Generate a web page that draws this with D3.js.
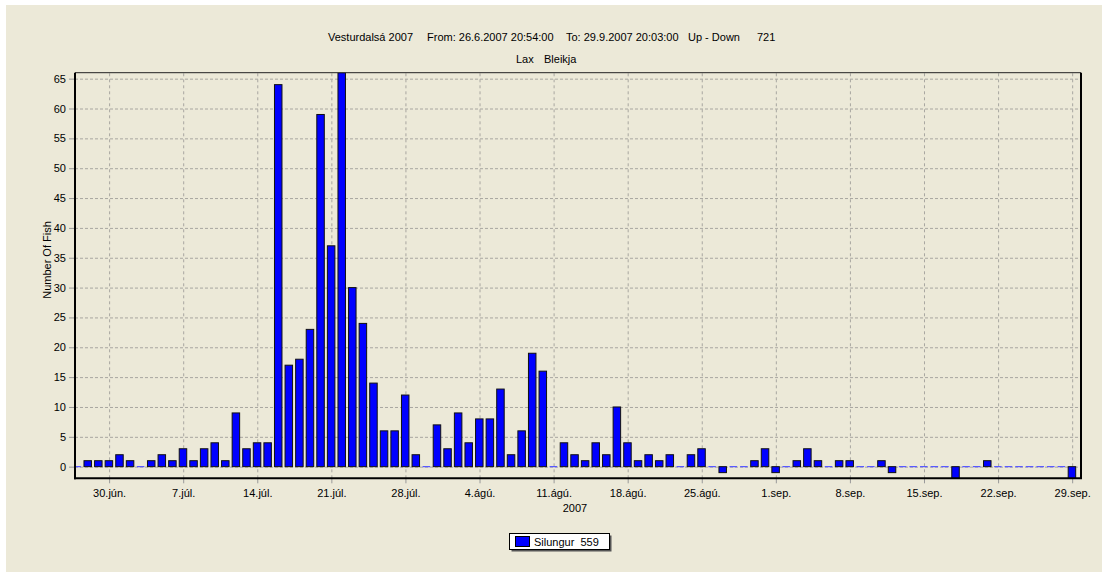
<!DOCTYPE html>
<html>
<head>
<meta charset="utf-8">
<script src="https://cdn.jsdelivr.net/npm/d3@7"></script>
<style>
  body { margin: 0; background: #ffffff; }
  svg { display: block; font-family: "Liberation Sans", Arial, sans-serif; font-size: 11px; }
</style>
</head>
<body>
<svg width="1102" height="572"></svg>
<script>
// Daily counts (Up - Down), one value per day starting 27 June 2007
const firstDay = "2007-06-27";
const lastDay = "2007-09-29";
const counts = [
    0, 1, 1, 1,
    // July
    2, 1, 0, 1, 2, 1, 3, 1, 3, 4, 1, 9, 3, 4, 4, 64, 17, 18, 23, 59, 37, 66, 30, 24, 14, 6, 6, 12, 2, 0, 7,
    // August
    3, 9, 4, 8, 8, 13, 2, 6, 19, 16, 0, 4, 2, 1, 4, 2, 10, 4, 1, 2, 1, 2, 0, 2, 3, 0, -1, 0, 0, 1, 3,
    // September
    -1, 0, 1, 3, 1, 0, 1, 1, 0, 0, 1, -1, 0, 0, 0, 0, 0, -2, 0, 0, 1, 0, 0, 0, 0, 0, 0, 0, -2
];

// Axis ticks
const xTickDates = ["2007-06-30", "2007-07-07", "2007-07-14", "2007-07-21", "2007-07-28", "2007-08-04",
    "2007-08-11", "2007-08-18", "2007-08-25", "2007-09-01", "2007-09-08", "2007-09-15", "2007-09-22", "2007-09-29"];
const xTickLabels = ["30.jún.", "7.júl.", "14.júl.", "21.júl.", "28.júl.", "4.ágú.",
    "11.ágú.", "18.ágú.", "25.ágú.", "1.sep.", "8.sep.", "15.sep.", "22.sep.", "29.sep."];
const yTicks = [0, 5, 10, 15, 20, 25, 30, 35, 40, 45, 50, 55, 60, 65];

// Period shown on the x axis (From / To)
const periodFrom = "2007-06-26 20:54";
const periodTo = "2007-09-29 20:03";

const seriesName = "Silungur  559";

const parseDay = d3.timeParse("%Y-%m-%d");
const parseTime = d3.timeParse("%Y-%m-%d %H:%M");

const days = d3.timeDay.range(parseDay(firstDay), d3.timeDay.offset(parseDay(lastDay), 1));
const data = days.map((d, i) => ({ date: d, value: counts[i] }));

// Plot box
const plot = { left: 76, right: 1081, top: 72.7, bottom: 478.3 };

const svg = d3.select("svg");

// Panel background (white edge on top/left)
svg.append("rect")
    .attr("x", 6).attr("y", 5)
    .attr("width", 1102 - 6).attr("height", 572 - 5)
    .attr("fill", "#ece9d8");

const x = d3.scaleTime()
    .domain([parseTime(periodFrom), parseTime(periodTo)])
    .range([plot.left, plot.right]);

const y = d3.scaleLinear()
    .domain([-1.95, 66])
    .range([plot.bottom, plot.top]);

svg.append("defs").append("clipPath")
    .attr("id", "clip")
  .append("rect")
    .attr("x", plot.left)
    .attr("y", plot.top)
    .attr("width", plot.right - plot.left)
    .attr("height", plot.bottom - plot.top);

// Horizontal grid + y axis
svg.append("g")
    .attr("transform", `translate(${plot.left - 1},0)`)
    .call(d3.axisLeft(y).tickValues(yTicks).tickSize(6).tickPadding(3))
    .call(g => g.select(".domain").remove())
    .call(g => g.selectAll(".tick line").attr("stroke", "#999"))
    .call(g => g.selectAll(".tick text").attr("fill", "#000").style("font-size", "11px")
        .style("font-family", "'Liberation Sans', Arial, sans-serif"))
    .call(g => g.selectAll(".tick line").clone()
        .attr("x1", 0)
        .attr("x2", plot.right - plot.left + 1)
        .attr("stroke", "#a8a6a0")
        .attr("stroke-dasharray", "3,2"));

// Vertical grid + x axis
svg.append("g")
    .attr("transform", `translate(0,${plot.bottom})`)
    .call(d3.axisBottom(x).tickValues(xTickDates.map(parseDay))
        .tickFormat((d, i) => xTickLabels[i]).tickSize(5).tickPadding(6))
    .call(g => g.select(".domain").remove())
    .call(g => g.selectAll(".tick line").attr("stroke", "#999"))
    .call(g => g.selectAll(".tick text").attr("fill", "#000").style("font-size", "11px")
        .style("font-family", "'Liberation Sans', Arial, sans-serif"))
    .call(g => g.selectAll(".tick line").clone()
        .attr("y1", 0)
        .attr("y2", plot.top - plot.bottom)
        .attr("stroke", "#a8a6a0")
        .attr("stroke-dasharray", "3,3"));

// Bars
const halfBar = 0.37; // fraction of a day on each side
const bars = svg.append("g").attr("clip-path", "url(#clip)");

bars.selectAll("rect")
    .data(data.filter(d => d.value !== 0))
    .join("rect")
    .attr("x", d => x(d3.timeHour.offset(d.date, -halfBar * 24)))
    .attr("width", d => x(d3.timeHour.offset(d.date, halfBar * 24)) - x(d3.timeHour.offset(d.date, -halfBar * 24)))
    .attr("y", d => y(Math.max(0, d.value)))
    .attr("height", d => Math.abs(y(d.value) - y(0)))
    .attr("fill", "#0000ff")
    .attr("stroke", "#111")
    .attr("stroke-width", 1);

// zero days drawn as flat blue bars
bars.selectAll("line")
    .data(data.filter(d => d.value === 0))
    .join("line")
    .attr("x1", d => x(d3.timeHour.offset(d.date, -halfBar * 24)))
    .attr("x2", d => x(d3.timeHour.offset(d.date, halfBar * 24)))
    .attr("y1", y(0))
    .attr("y2", y(0))
    .attr("stroke", "#5a5aff")
    .attr("stroke-width", 1.2);

// Frame
svg.append("line")
    .attr("x1", plot.left - 1).attr("x2", plot.right)
    .attr("y1", plot.top).attr("y2", plot.top)
    .attr("stroke", "#222").attr("stroke-width", 1);
svg.append("line")
    .attr("x1", plot.right).attr("x2", plot.right)
    .attr("y1", plot.top).attr("y2", plot.bottom)
    .attr("stroke", "#000").attr("stroke-width", 2);
svg.append("line")
    .attr("x1", plot.left - 1).attr("x2", plot.left - 1)
    .attr("y1", plot.top).attr("y2", plot.bottom + 1)
    .attr("stroke", "#000").attr("stroke-width", 2);
svg.append("line")
    .attr("x1", plot.left - 2).attr("x2", plot.right + 1)
    .attr("y1", plot.bottom).attr("y2", plot.bottom)
    .attr("stroke", "#000").attr("stroke-width", 2);

// Titles
const title = svg.append("g").attr("fill", "#000");
title.append("text").attr("x", 328).attr("y", 40.5).text("Vesturdalsá 2007");
title.append("text").attr("x", 427).attr("y", 40.5).text("From: 26.6.2007 20:54:00");
title.append("text").attr("x", 566).attr("y", 40.5).text("To: 29.9.2007 20:03:00");
title.append("text").attr("x", 688).attr("y", 40.5).text("Up - Down");
title.append("text").attr("x", 757).attr("y", 40.5).text("721");
title.append("text").attr("x", 516).attr("y", 62.5).text("Lax");
title.append("text").attr("x", 544).attr("y", 62.5).text("Bleikja");

// Axis labels
svg.append("text")
    .attr("transform", "rotate(-90)")
    .attr("x", -260)
    .attr("y", 50.5)
    .attr("text-anchor", "middle")
    .text("Number Of Fish");

svg.append("text")
    .attr("x", 575)
    .attr("y", 512)
    .attr("text-anchor", "middle")
    .text("2007");

// Legend
const legend = svg.append("g");
legend.append("rect")
    .attr("x", 511.5).attr("y", 535.5).attr("width", 100).attr("height", 16)
    .attr("fill", "#555");
legend.append("rect")
    .attr("x", 509.5).attr("y", 533.5).attr("width", 100).attr("height", 16)
    .attr("fill", "#fff").attr("stroke", "#000");
legend.append("rect")
    .attr("x", 515.5).attr("y", 536.5).attr("width", 14).attr("height", 10)
    .attr("fill", "#0000ff").attr("stroke", "#000");
legend.append("text")
    .attr("x", 534).attr("y", 546)
    .style("white-space", "pre")
    .text(seriesName);
</script>
</body>
</html>
